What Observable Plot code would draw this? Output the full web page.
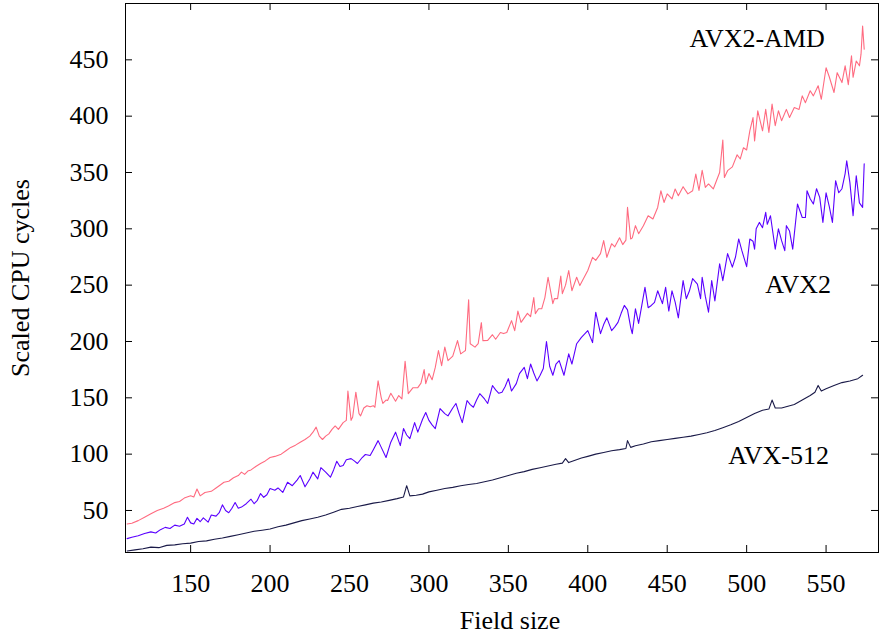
<!DOCTYPE html>
<html><head><meta charset="utf-8">
<script src="https://cdn.jsdelivr.net/npm/d3@7"></script>
<script src="https://cdn.jsdelivr.net/npm/@observablehq/plot@0.6"></script>
<style>html,body{margin:0;padding:0;background:#fff}</style>
</head><body><div id="chart"></div>
<script>
// ---- data ----
const xTicks = [150, 200, 250, 300, 350, 400, 450, 500, 550];
const yTicks = [50, 100, 150, 200, 250, 300, 350, 400, 450];

const amdX = [110,113,117,121,125,129,133,136,140,143,146,150,152,154,156,159,163,166,168,171,174,177,180,182,184,186,188,191,194,197,200,203,207,210,213,216,219,222,225,227,229,231,233,235,237,239,241,243,244,246,248,249,251,252,254,256,257,259,261,263,265,266,268,270,271,273,274,276,279,281,283,285,287,290,293,295,297,298,300,302,304,306,308,310,312,315,318,320,322,323,325,326,329,331,333,334,337,340,342,345,347,349,352,354,356,358,362,364,366,367,369,371,373,375,378,379,381,383,384,386,388,390,393,395,397,400,403,405,408,410,412,415,417,420,422,424,425,427,428,430,432,435,438,441,444,446,448,450,453,455,457,460,463,466,468,470,472,474,476,479,481,483,485,486,488,491,494,496,498,500,502,504,505,507,510,512,514,516,518,520,522,525,527,530,533,535,537,540,542,545,547,550,552,555,557,560,562,564,566,567,569,571,572,573,574];
const amdY = [38,38.7,41,44,47,50,52,54,57,58,61,63,62,69,63,66,67,70,72,75,76,79,81,84,82,85,86,89,91.7,94,97,98,100,103,106,108,110.6,113,116,119.5,124,116,113,116,118,122,125,122,124,128,130,156,130,133,155,136,134,141,143,142,143,141.6,165,150,145,148,147.6,154,147,152,149,182.5,153.7,159,159,163,175,162.6,171.5,166,177,192,178.6,195,183,187,200.8,189,191,192,237,198,195,198,216.7,200.8,201,206,202,208,207,208,218.5,209.6,227,217,225,222,239,224.7,229,229,239,257,233.6,238,238,258,242.5,250,263,245,257,249.6,255,263,274.7,272,278,289.5,274.7,286.8,284,292,286,290,319,291,292,302.8,295.7,302.8,311.6,308.7,319,333.8,323.4,331,326.5,335.4,329.4,337.4,331,333.8,348.6,334,352,336.8,339.8,335.4,342.7,350,378.8,345.6,351.6,355,365.7,362,372,370,387,398.8,378,404.8,387,406,385.5,410.7,391.5,404.8,396,406,398.8,407.6,406,418,412,422.5,418,427,415,443,435,421,438.6,429.8,444.7,428,453.6,434.5,449,444.7,455,480,459.5];

const avx2X = [110,113,117,121,125,128,131,134,137,140,143,146,148,150,152,154,156,158,161,163,166,168,170,172,174,176,178,180,182,185,188,190,192,194,196,198,200,203,205,208,211,214,217,219,222,225,227,230,232,235,238,240,242,244,246,248,251,253,255,258,260,263,265,268,270,273,276,279,282,284,286,288,291,293,296,298,300,302,304,307,310,312,315,317,319,321,324,326,328,330,332,335,337,340,342,344,346,348,350,352,355,357,360,362,364,366,368,370,372,374,376,378,380,382,385,388,390,393,396,400,403,405,408,410,412,415,417,419,421,423,425,427,428,430,432,434,436,438,440,442,444,447,449,451,453,455,457,460,462,464,466,469,471,472,474,476,478,480,483,485,488,491,493,495,497,500,502,504,505,506,508,510,512,513,515,518,520,522,524,525,527,529,532,535,537,538,540,542,544,546,548,550,552,554,556,558,560,562,563,565,567,569,571,573,574];
const avx2Y = [25,26.3,27.5,29.5,31,30,33,35,34,37,36,38,44,39,38,43,40,43.5,39.6,46,45,48,55,50,48,52,57,52,53,56,60,56,59,65,61.7,64,69.5,68,70,66,75,72,77,81,71,78,84,78,88,84,79.5,86,93.7,89,90,95,96,94,91.7,97,99.7,98.8,104,112,106,97,110.6,119.5,107.6,122.7,117,113.8,128,119.5,131,137,130,126,122.7,140.5,136,134,141,145,136,128,147.6,144,141.6,148,153.7,149,145,160.9,157,154,155,160,167,156,162.6,171.5,177,167,180,172,165,170,176,200,178,170,180,183,170,189,180,198,203.7,209.6,199,226,207,215,221,209.6,213,217,225,232,228,212.6,207,229,216,232,248,230,232,234.7,245,233.6,248,227,245,235,221,254,238,245,255.8,251,238,257,240,226,254,236,269,254,278,266,275,291,280.6,266.4,291,289,282,300,305.7,301,314.6,304,311.6,282,300,289.5,280.6,302.8,298,282,322,310,310,333.8,326.7,322,335.6,327.9,305.7,332,320,305.7,342.7,332,335.6,349,360.4,341,311.6,347,323,319,357.7];

const avx512X = [110,115,120,125,130,135,140,145,150,155,160,165,170,175,180,185,190,195,200,205,210,215,220,225,230,235,240,245,250,255,260,265,270,275,280,284,286,288,292,296,300,305,310,315,320,325,330,335,340,345,350,355,360,365,370,375,380,384,386,388,392,396,400,405,410,415,420,424,425,427,430,435,440,445,450,455,460,465,470,475,480,485,490,495,500,505,510,514,516,518,522,526,530,535,540,543,545,547,550,555,560,565,570,573];
const avx512Y = [14,15,16,17.5,17,19,19.5,20.5,21,22.5,23,24.5,25.5,27,28.5,30,31.5,32.5,33.5,35.5,37,39,41,42.5,44,46,48.5,51,52,53.5,55,56.5,57.5,59,60.5,62,72,63,63.5,64.5,66.5,68,69.5,70.5,72,73,74,75.5,77,79,81,83,84.5,86.5,88,89.5,91,92,96,92.5,94.5,96.5,98,100,101.5,103,104,105,112,106,107.5,109,111,112,113,114,115,116,117.5,119,121,123.5,126,129,132.5,136,139,140,148,141,141,142.5,144,148,152,155,161,156,158,161,163.5,165,167,170];

const seriesNames = ["AVX2-AMD", "AVX2", "AVX-512"];
const seriesColors = ["#ff6b80", "#5a00ff", "#1a1a48"];
const labelX = [506.6, 532.4, 520.1];
const labelY = [468.6, 250.4, 98.8];

// ---- build tables ----
const toRows = (xs, ys) => xs.map((x, i) => ({x, y: ys[i]}));
const amd = toRows(amdX, amdY);
const avx2 = toRows(avx2X, avx2Y);
const avx512 = toRows(avx512X, avx512Y);

const font = "'Liberation Serif', 'Times New Roman', serif";
const fs = 26;

const chart = Plot.plot({
  width: 888,
  height: 636,
  marginLeft: 125,
  marginRight: 10,
  marginTop: 3,
  marginBottom: 84,
  style: {fontFamily: font, fontSize: fs + "px", color: "#000", background: "#fff"},
  x: {domain: [109, 583], ticks: xTicks, label: null},
  y: {domain: [12.7, 500], ticks: yTicks, label: null},
  marks: [
    Plot.line(amd, {x: "x", y: "y", stroke: seriesColors[0], strokeWidth: 1.1}),
    Plot.line(avx2, {x: "x", y: "y", stroke: seriesColors[1], strokeWidth: 1.1}),
    Plot.line(avx512, {x: "x", y: "y", stroke: seriesColors[2], strokeWidth: 1.1}),
    Plot.tickX(xTicks, {x: d => d, insetTop: 542, stroke: "#000"}),
    Plot.tickX(xTicks, {x: d => d, insetBottom: 542, stroke: "#000"}),
    Plot.tickY(yTicks, {y: d => d, insetRight: 746, stroke: "#000"}),
    Plot.tickY(yTicks, {y: d => d, insetLeft: 746, stroke: "#000"}),
    Plot.axisX(xTicks, {tickSize: 0, tickPadding: 21, fontSize: fs, label: null}),
    Plot.axisY(yTicks, {tickSize: 0, tickPadding: 17, fontSize: fs, label: null}),
    Plot.frame({stroke: "#000", strokeWidth: 1}),
    Plot.text(seriesNames, {x: (d, i) => labelX[i], y: (d, i) => labelY[i], text: d => d, fontSize: fs, fill: "#000"}),
    Plot.text(["Field size"], {frameAnchor: "bottom", dy: 76, dx: 8, text: d => d, fontSize: fs, fill: "#000"}),
    Plot.text(["Scaled CPU cycles"], {frameAnchor: "left", textAnchor: "middle", lineAnchor: "middle", dx: -105, rotate: -90, text: d => d, fontSize: fs, fill: "#000"})
  ]
});
document.getElementById("chart").appendChild(chart);
</script>
</body></html>
